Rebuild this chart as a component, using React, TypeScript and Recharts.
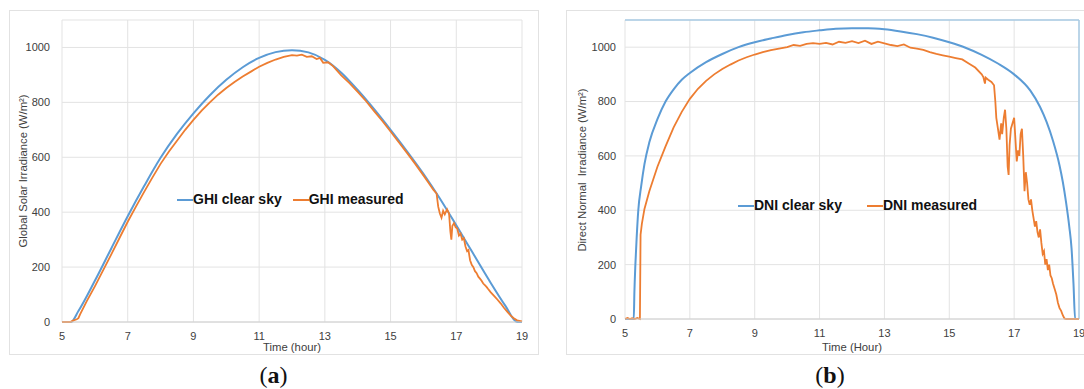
import { LineChart, Line, XAxis, YAxis, CartesianGrid, Legend, ReferenceLine } from "recharts";

const FONT = "'Liberation Sans', Arial, sans-serif";
const BLUE = "#5b9bd5";
const ORANGE = "#ed7d31";
const GRID = "#e3e3e3";

const xTicks = [5, 7, 9, 11, 13, 15, 17, 19];
const yTicks = [0, 200, 400, 600, 800, 1000];

// (a) GHI
const ghiClearHours = [5, 5.27, 5.5, 6, 6.5, 7, 7.5, 8, 8.5, 9, 9.5, 10, 10.5, 11, 11.5, 12, 12.5, 13, 13.5, 14, 14.5, 15, 15.5, 16, 16.5, 17, 17.5, 18, 18.5, 18.85, 19];
const ghiClearValues = [0, 0, 40, 150, 268, 385, 495, 598, 685, 760, 826, 882, 928, 962, 983, 990, 982, 955, 908, 845, 775, 700, 622, 540, 450, 352, 252, 152, 58, 0, 0];

const ghiMeasHours = [5, 5.25, 5.35, 5.45, 5.5, 5.55, 5.75, 6, 6.25, 6.5, 6.75, 7, 7.25, 7.5, 7.75, 8, 8.25, 8.5, 8.75, 9, 9.25, 9.5, 9.75, 10, 10.25, 10.5, 10.75, 11, 11.25, 11.5, 11.75, 12, 12.15, 12.3, 12.45, 12.6, 12.75, 12.85, 12.95, 13.1, 13.25, 13.5, 13.75, 14, 14.25, 14.5, 14.75, 15, 15.25, 15.5, 15.75, 16, 16.15, 16.3, 16.4, 16.45, 16.5, 16.55, 16.6, 16.65, 16.72, 16.78, 16.82, 16.85, 16.88, 16.93, 16.98, 17.03, 17.08, 17.13, 17.18, 17.23, 17.28, 17.33, 17.37, 17.42, 17.47, 17.52, 17.57, 17.62, 17.67, 17.72, 17.77, 17.82, 17.87, 17.92, 17.97, 18.05, 18.15, 18.25, 18.35, 18.45, 18.55, 18.65, 18.75, 18.85, 19];
const ghiMeasValues = [0, 0, 6, 10, 14, 28, 75, 130, 188, 246, 306, 365, 420, 474, 526, 576, 620, 660, 700, 736, 770, 800, 828, 852, 874, 894, 912, 930, 944, 956, 966, 972, 970, 974, 966, 968, 958, 962, 944, 946, 932, 898, 870, 838, 805, 768, 732, 694, 655, 616, 576, 534, 508, 482, 468, 420, 395, 380, 405, 392, 410, 395, 330, 300, 350, 360, 345, 340, 315, 322, 300, 305, 275, 258, 262, 225, 208, 200, 185, 178, 165, 158, 150, 140, 134, 128, 120, 108, 95, 82, 68, 52, 38, 24, 14, 6, 2];

// (b) DNI
const dniClearHours = [5, 5.27, 5.29, 5.32, 5.36, 5.41, 5.5, 5.6, 5.75, 6, 6.25, 6.5, 6.75, 7, 7.5, 8, 8.5, 9, 9.5, 10, 10.5, 11, 11.5, 12, 12.5, 13, 13.5, 14, 14.5, 15, 15.5, 16, 16.5, 17, 17.5, 17.8, 18, 18.2, 18.4, 18.5, 18.6, 18.7, 18.77, 18.83, 18.88, 19];
const dniClearValues = [0, 0, 100, 200, 300, 400, 490, 570, 650, 735, 800, 845, 880, 905, 945, 975, 1000, 1018, 1032, 1045, 1055, 1062, 1068, 1070, 1070, 1066, 1058, 1048, 1035, 1018, 998, 972, 940, 900, 840, 780, 725, 655, 565, 505, 430, 340, 260, 130, 0, 0];

const dniMeasHours = [5, 5.08, 5.15, 5.22, 5.3, 5.38, 5.46, 5.48, 5.52, 5.6, 5.75, 6, 6.25, 6.5, 6.75, 7, 7.25, 7.5, 7.75, 8, 8.25, 8.5, 8.75, 9, 9.25, 9.5, 9.75, 10, 10.2, 10.4, 10.6, 10.8, 11, 11.2, 11.4, 11.6, 11.8, 12, 12.2, 12.4, 12.6, 12.8, 13, 13.2, 13.4, 13.6, 13.8, 14, 14.2, 14.4, 14.6, 14.8, 15, 15.2, 15.4, 15.6, 15.8, 16, 16.05, 16.1, 16.12, 16.2, 16.3, 16.38, 16.42, 16.45, 16.5, 16.55, 16.6, 16.63, 16.68, 16.72, 16.76, 16.8, 16.83, 16.86, 16.9, 16.95, 17, 17.04, 17.08, 17.12, 17.16, 17.2, 17.24, 17.28, 17.32, 17.36, 17.4, 17.44, 17.48, 17.52, 17.56, 17.6, 17.64, 17.68, 17.72, 17.76, 17.8, 17.84, 17.88, 17.92, 17.96, 18, 18.04, 18.08, 18.12, 18.16, 18.2, 18.25, 18.3, 18.35, 18.4, 18.45, 18.5, 18.55, 18.6, 19];
const dniMeasValues = [0, 4, 0, 3, 0, 4, 0, 310, 350, 405, 470, 560, 635, 705, 762, 810, 847, 876, 900, 920, 936, 951, 963, 973, 982, 989, 995, 1000, 1008, 1005, 1012, 1015, 1012, 1016, 1010, 1020, 1016, 1022, 1015, 1024, 1012, 1020, 1014, 1008, 1004, 1010, 998, 995, 990, 982, 975, 970, 965, 960, 955, 940, 925, 900, 890, 866, 888, 880, 872, 860, 800, 740, 700, 660, 720, 680, 740, 770, 700, 560, 530, 640, 700, 720, 740, 660, 580, 620, 600, 680, 700, 600, 470, 540, 500, 440, 420, 440, 400, 370, 340, 360, 320, 300, 330, 280, 240, 250, 200, 220, 180, 200, 160, 150, 130, 110, 90, 60, 40, 30, 14, 2, 0, 0];

const toPoints = (hours: number[], values: number[]) => hours.map((h, i) => ({ h, v: values[i] }));

const ghiClear = toPoints(ghiClearHours, ghiClearValues);
const ghiMeas = toPoints(ghiMeasHours, ghiMeasValues);
const dniClear = toPoints(dniClearHours, dniClearValues);
const dniMeas = toPoints(dniMeasHours, dniMeasValues);

const tickStyle = { fontSize: 11, fill: "#404040", fontFamily: FONT };

function LegendRow({ payload, gap }: { payload?: any[]; gap: number }) {
  const items = payload ?? [];
  return (
    <div style={{ display: "flex", alignItems: "center", fontFamily: FONT, fontWeight: "bold", fontSize: 14, color: "#111", whiteSpace: "nowrap", lineHeight: "17px" }}>
      {items.map((p, i) => (
        <div key={p.value} style={{ display: "flex", alignItems: "center", marginRight: i < items.length - 1 ? gap : 0 }}>
          <span style={{ display: "inline-block", width: 16, height: 2, background: p.color }} />
          <span>{p.value}</span>
        </div>
      ))}
    </div>
  );
}

export default function App() {
  return (
    <div style={{ position: "absolute", left: 0, top: 0, width: 1084, height: 389, background: "#fff", overflow: "hidden" }}>
      <div style={{ position: "absolute", left: 9, top: 10, width: 528, height: 343, border: "1px solid #e2e2e2" }} />
      <div style={{ position: "absolute", left: 566, top: 10, width: 530, height: 343, border: "1px solid #e2e2e2" }} />

      <div style={{ position: "absolute", left: 0, top: 0 }}>
        <LineChart width={540} height={389} margin={{ top: 20, right: 18, left: 0, bottom: 0 }}>
          <CartesianGrid stroke={GRID} />
          <XAxis dataKey="h" type="number" domain={[5, 19]} ticks={xTicks} interval={0} height={67}
            tickLine={false} tickMargin={4} axisLine={{ stroke: "#d0d0d0" }} tick={tickStyle} allowDataOverflow />
          <YAxis type="number" domain={[0, 1100]} ticks={yTicks} width={62} interval={0}
            tickLine={false} axisLine={false} tickMargin={6} tick={tickStyle} />
          <Legend layout="horizontal" verticalAlign="middle" align="center"
            wrapperStyle={{ left: 177, top: 191, width: "auto" }}
            content={(props: any) => <LegendRow payload={props.payload} gap={11} />} />
          <Line data={ghiClear} dataKey="v" name="GHI clear sky" type="monotone" stroke={BLUE} strokeWidth={2} dot={false} isAnimationActive={false} />
          <Line data={ghiMeas} dataKey="v" name="GHI measured" type="linear" stroke={ORANGE} strokeWidth={1.8} dot={false} isAnimationActive={false} />
        </LineChart>
      </div>

      <div style={{ position: "absolute", left: 544, top: 0 }}>
        <LineChart width={540} height={389} margin={{ top: 20, right: 5, left: 0, bottom: 0 }}>
          <CartesianGrid stroke={GRID} />
          <XAxis dataKey="h" type="number" domain={[5, 19]} ticks={xTicks} interval={0} height={70}
            tickLine={false} tickMargin={4} axisLine={{ stroke: "#d0d0d0" }} tick={tickStyle} allowDataOverflow />
          <YAxis type="number" domain={[0, 1100]} ticks={yTicks} width={81} interval={0}
            tickLine={false} axisLine={false} tickMargin={3} tick={tickStyle} />
          <ReferenceLine y={1100} stroke="#a9cbe5" strokeWidth={1.5} />
          <ReferenceLine x={19} stroke="#a9cbe5" strokeWidth={1.5} />
          <Legend layout="horizontal" verticalAlign="middle" align="center"
            wrapperStyle={{ left: 194, top: 197, width: "auto" }}
            content={(props: any) => <LegendRow payload={props.payload} gap={25} />} />
          <Line data={dniClear} dataKey="v" name="DNI clear sky" type="monotone" stroke={BLUE} strokeWidth={2} dot={false} isAnimationActive={false} />
          <Line data={dniMeas} dataKey="v" name="DNI measured" type="linear" stroke={ORANGE} strokeWidth={1.8} dot={false} isAnimationActive={false} />
        </LineChart>
      </div>

      <svg width={1084} height={389} style={{ position: "absolute", left: 0, top: 0, pointerEvents: "none" }}>
        <g fontFamily={FONT} fontSize={11.3} fill="#404040" textAnchor="middle">
          <text x={23.4} y={171} dominantBaseline="central" transform="rotate(-90 23.4 171)">Global Solar Irradiance (W/m²)</text>
          <text x={582} y={170} dominantBaseline="central" transform="rotate(-90 582 170)" style={{ whiteSpace: "pre" }}>Direct Normal  Irradiance (W/m²)</text>
          <text x={292} y={347} dominantBaseline="central">Time (hour)</text>
          <text x={852} y={347} dominantBaseline="central">Time (Hour)</text>
        </g>
        <g fontFamily="'Liberation Serif', 'Times New Roman', serif" fontSize={24} fill="#111" textAnchor="middle">
          <text x={273.5} y={383}>(<tspan fontWeight="bold">a</tspan>)</text>
          <text x={830} y={383}>(<tspan fontWeight="bold">b</tspan>)</text>
        </g>
      </svg>
    </div>
  );
}
